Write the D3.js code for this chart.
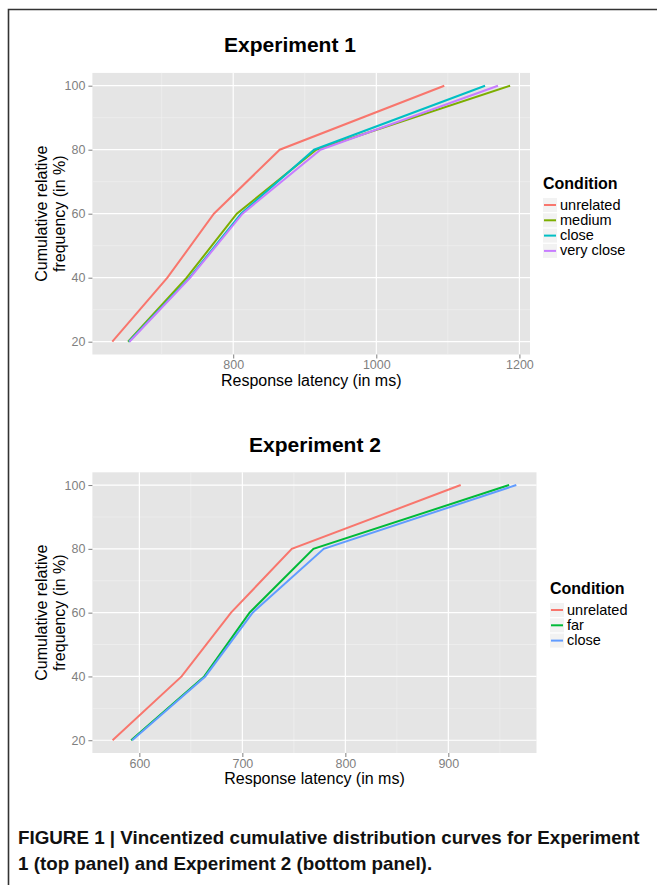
<!DOCTYPE html>
<html><head><meta charset="utf-8">
<script src="https://cdn.jsdelivr.net/npm/d3@7"></script>
<style>body{margin:0;background:#fff}svg{display:block}text{font-family:"Liberation Sans",Arial,sans-serif}</style>
</head><body>
<svg id="c" width="657" height="885"></svg>
<script>
// ---- data ----
const yLevels = [20, 40, 60, 80, 100];
const exp1Conditions = ["unrelated", "medium", "close", "very close"];
const exp1Unrelated = [631, 708, 773, 865, 1095];
const exp1Medium = [653, 735, 805, 916, 1187];
const exp1Close = [654, 739, 811, 913, 1152];
const exp1VeryClose = [655, 740, 813, 922, 1170];
const exp1Colors = ["#F8766D", "#7CAE00", "#00BFC4", "#C77CFF"];
const exp1XTicks = [800, 1000, 1200];
const exp1XMinor = [700, 900, 1100];

const exp2Conditions = ["unrelated", "far", "close"];
const exp2Unrelated = [574, 641, 689, 748, 912];
const exp2Far = [592, 663, 707, 769, 959];
const exp2Close = [593, 664, 710, 779, 966];
const exp2Colors = ["#F8766D", "#00BA38", "#619CFF"];
const exp2XTicks = [600, 700, 800, 900];
const exp2XMinor = [650, 750, 850, 950];

const yTicks = [20, 40, 60, 80, 100];
const yMinor = [30, 50, 70, 90];

const svg = d3.select("#c");

// frame
svg.append("path").attr("d", "M8.5,885 V9.5 H657").attr("fill", "none")
  .attr("stroke", "#333").attr("stroke-width", 1.6);

function panel(cfg) {
  const series = cfg.series;
  const allX = series.flat();
  const xmin = d3.min(allX), xmax = d3.max(allX), xr = xmax - xmin;
  const x = d3.scaleLinear().domain([xmin - 0.05 * xr, xmax + 0.05 * xr]).range([cfg.left, cfg.right]);
  const y = d3.scaleLinear().domain([16, 104]).range([cfg.bottom, cfg.top]);
  const g = svg.append("g");
  g.append("rect").attr("x", cfg.left).attr("y", cfg.top)
    .attr("width", cfg.right - cfg.left).attr("height", cfg.bottom - cfg.top).attr("fill", "#E5E5E5");
  // minor grid
  g.selectAll(".ym").data(yMinor).join("line")
    .attr("x1", cfg.left).attr("x2", cfg.right).attr("y1", d => y(d)).attr("y2", d => y(d))
    .attr("stroke", "#F2F2F2").attr("stroke-width", 0.6);
  g.selectAll(".xm").data(cfg.xMinor).join("line")
    .attr("y1", cfg.top).attr("y2", cfg.bottom).attr("x1", d => x(d)).attr("x2", d => x(d))
    .attr("stroke", "#F2F2F2").attr("stroke-width", 0.6);
  // major grid
  g.selectAll(".yg").data(yTicks).join("line")
    .attr("x1", cfg.left).attr("x2", cfg.right).attr("y1", d => y(d)).attr("y2", d => y(d))
    .attr("stroke", "#fff").attr("stroke-width", 1.2);
  g.selectAll(".xg").data(cfg.xTicks).join("line")
    .attr("y1", cfg.top).attr("y2", cfg.bottom).attr("x1", d => x(d)).attr("x2", d => x(d))
    .attr("stroke", "#fff").attr("stroke-width", 1.2);
  // axes
  const ax = g.append("g").attr("transform", `translate(0,${cfg.bottom})`)
    .call(d3.axisBottom(x).tickValues(cfg.xTicks).tickFormat(d3.format("d")).tickSize(4).tickPadding(2));
  const ay = g.append("g").attr("transform", `translate(${cfg.left},0)`)
    .call(d3.axisLeft(y).tickValues(yTicks).tickFormat(d3.format("d")).tickSize(4).tickPadding(3));
  [ax, ay].forEach(a => {
    a.select(".domain").remove();
    a.selectAll("line").attr("stroke", "#7F7F7F");
    a.selectAll("text").attr("fill", "#7F7F7F").style("font-size", "12.5px")
      .style("font-family", "Liberation Sans, Arial, sans-serif");
  });
  // lines
  const line = d3.line().x(d => x(d[0])).y(d => y(d[1]));
  series.forEach((s, i) => {
    g.append("path").datum(s.map((v, j) => [v, yLevels[j]]))
      .attr("d", line).attr("fill", "none").attr("stroke", cfg.colors[i]).attr("stroke-width", 2);
  });
  // titles
  g.append("text").attr("x", cfg.titleX).attr("y", cfg.titleY).attr("text-anchor", "middle")
    .style("font-size", "21px").style("font-weight", "bold").attr("fill", "#000").text(cfg.title);
  g.append("text").attr("x", (cfg.left + cfg.right) / 2).attr("y", cfg.bottom + 31)
    .attr("text-anchor", "middle").style("font-size", "16px").attr("fill", "#000")
    .text("Response latency (in ms)");
  const yt = g.append("text").attr("transform", `translate(47,${(cfg.top + cfg.bottom) / 2}) rotate(-90)`)
    .attr("text-anchor", "middle").style("font-size", "16px").attr("fill", "#000");
  yt.append("tspan").attr("x", 0).attr("dy", 0).text("Cumulative relative");
  yt.append("tspan").attr("x", 0).attr("dy", 17.5).text("frequency (in %)");
  // legend
  const lg = g.append("g").attr("transform", `translate(${cfg.legX},${cfg.legY})`);
  lg.append("text").attr("x", 0).attr("y", 0).style("font-size", "16px").style("font-weight", "bold")
    .attr("fill", "#000").text("Condition");
  cfg.names.forEach((n, i) => {
    const yy = 16 + i * 15.3;
    lg.append("rect").attr("x", 0).attr("y", yy - 7).attr("width", 14).attr("height", 14).attr("fill", "#F2F2F2");
    lg.append("line").attr("x1", 1).attr("x2", 13).attr("y1", yy).attr("y2", yy)
      .attr("stroke", cfg.colors[i]).attr("stroke-width", 2);
    lg.append("text").attr("x", 17).attr("y", yy + 4.5).style("font-size", "14.5px").attr("fill", "#000").text(n);
  });
}

panel({
  series: [exp1Unrelated, exp1Medium, exp1Close, exp1VeryClose], names: exp1Conditions, colors: exp1Colors,
  xTicks: exp1XTicks, xMinor: exp1XMinor, left: 92.4, right: 530, top: 72.9, bottom: 354.5,
  title: "Experiment 1", titleX: 290, titleY: 52, legX: 543, legY: 189
});
panel({
  series: [exp2Unrelated, exp2Far, exp2Close], names: exp2Conditions, colors: exp2Colors,
  xTicks: exp2XTicks, xMinor: exp2XMinor, left: 92.4, right: 536.5, top: 472.3, bottom: 753,
  title: "Experiment 2", titleX: 315, titleY: 452, legX: 550, legY: 594
});

// caption
const cap = svg.append("g");
const l1 = cap.append("text").attr("x", 0).attr("y", 0).style("font-size", "17.5px").style("font-weight", "bold")
  .attr("fill", "#111").text("FIGURE 1 | Vincentized cumulative distribution curves for Experiment");
const l2 = cap.append("text").attr("x", 0).attr("y", 26.5).style("font-size", "17.5px").style("font-weight", "bold")
  .attr("fill", "#111").text("1 (top panel) and Experiment 2 (bottom panel).");
const w = l1.node().getComputedTextLength();
const sx = 622 / w;
cap.attr("transform", `translate(18,844) scale(${sx},1)`);
</script>
</body></html>
